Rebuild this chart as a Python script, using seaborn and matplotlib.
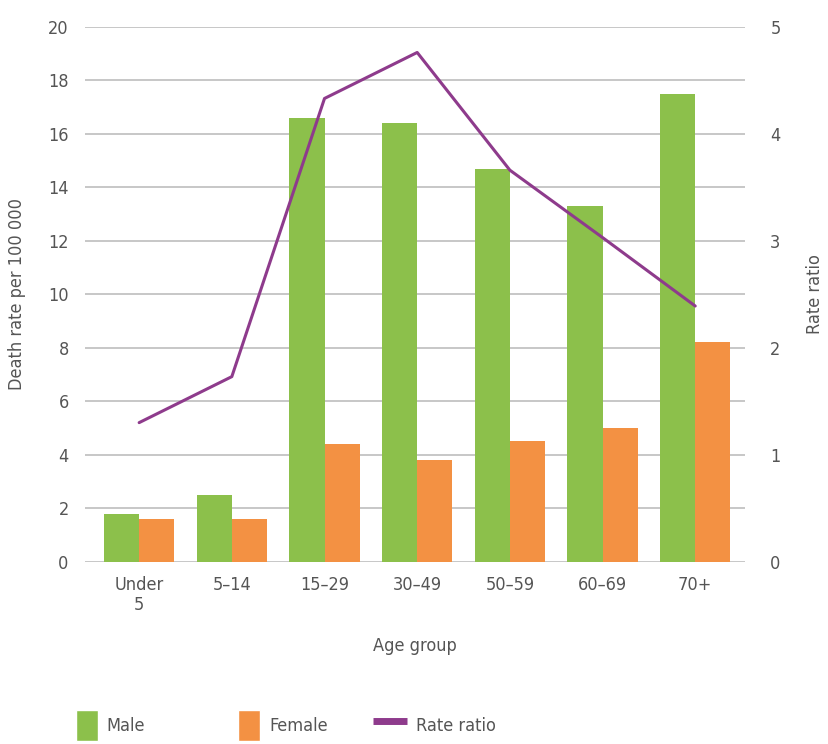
import numpy as np
import pandas as pd
import matplotlib.pyplot as plt
import seaborn as sns
from matplotlib.patches import Patch
from matplotlib.lines import Line2D

# data
age_groups = ['Under\n5', '5–14', '15–29', '30–49', '50–59', '60–69', '70+']
male = [1.8, 2.5, 16.6, 16.4, 14.7, 13.3, 17.5]
female = [1.6, 1.6, 4.4, 3.8, 4.5, 5.0, 8.2]
rate_ratio = [1.3, 1.73, 4.33, 4.76, 3.66, 3.03, 2.39]

green = '#8cc04b'
orange = '#f39143'
purple = '#8e3b8c'
text_col = '#555555'
grid_col = '#bdbdbd'

df = pd.DataFrame({'Age group': age_groups * 2,
                   'rate': male + female,
                   'Sex': ['Male'] * 7 + ['Female'] * 7})

sns.set_style('white')
plt.rcParams['font.family'] = ['DejaVu Sans']
plt.rcParams['font.stretch'] = 'condensed'
plt.rcParams['text.color'] = text_col
plt.rcParams['axes.labelcolor'] = text_col
plt.rcParams['xtick.color'] = text_col
plt.rcParams['ytick.color'] = text_col

fs = 13

fig = plt.figure(figsize=(8.29, 7.44), dpi=100)
ax = fig.add_axes([0.103, 0.245, 0.796, 0.719])

sns.barplot(data=df, x='Age group', y='rate', hue='Sex',
            palette=[green, orange], width=0.76, gap=0, saturation=1,
            linewidth=0, ax=ax, legend=False)
ax.set_ylim(0, 20)
ax.set_yticks(range(0, 21, 2))
ax.set_xlim(-0.58, 6.54)
ax.set_axisbelow(True)
ax.yaxis.grid(True, color=grid_col, linewidth=1.2)
for s in ax.spines.values():
    s.set_visible(False)
ax.tick_params(axis='both', length=0, labelsize=fs)
ax.tick_params(axis='y', pad=12)
ax.tick_params(axis='x', pad=10)
ax.set_ylabel('Death rate per 100 000', fontsize=fs, labelpad=16)
ax.set_xlabel('Age group', fontsize=fs, labelpad=16)

ax2 = ax.twinx()
sns.lineplot(x=np.arange(len(rate_ratio)), y=rate_ratio, color=purple,
             linewidth=2.2, ax=ax2)
ax2.set_ylim(0, 5)
ax2.set_yticks(range(0, 6))
ax2.set_xlim(-0.58, 6.54)
for s in ax2.spines.values():
    s.set_visible(False)
ax2.tick_params(axis='y', length=0, labelsize=fs, pad=18)
ax2.set_ylabel('Rate ratio', fontsize=fs, labelpad=18)

# legend entries placed one by one, as in the reference
entries = [
    (Patch(facecolor=green, label='Male'), 0.072, 1.2),
    (Patch(facecolor=orange, label='Female'), 0.268, 1.2),
    (Line2D([0], [0], color=purple, linewidth=5, solid_capstyle='butt',
            label='Rate ratio'), 0.430, 1.9),
]
for h, xpos, hl in entries:
    fig.legend(handles=[h], loc='center left', bbox_to_anchor=(xpos, 0.025),
               frameon=False, fontsize=fs, handlelength=hl,
               handleheight=2.2, handletextpad=0.5)

fig.savefig('out.png', dpi=100)
